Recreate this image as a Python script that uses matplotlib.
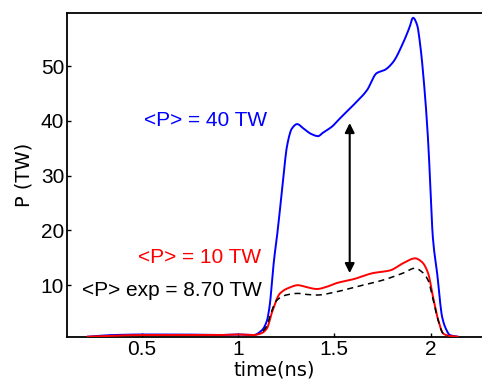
import numpy as np
import matplotlib
matplotlib.use('Agg')
import matplotlib.pyplot as plt

plt.rcParams.update({
    'font.family': ['Liberation Sans', 'DejaVu Sans'],
    'font.size': 15,
})

# blue: <P> = 40 TW
t_blue = [0.22, 0.35, 0.5, 0.7, 0.9, 1.0, 1.08, 1.125, 1.15, 1.166, 1.18, 1.19, 1.20,
          1.229, 1.255, 1.28, 1.307, 1.34, 1.38, 1.416, 1.44, 1.462, 1.49, 1.52, 1.545,
          1.6, 1.67, 1.72, 1.763, 1.805, 1.857, 1.89, 1.909, 1.93, 1.945, 1.97, 1.987,
          2.013, 2.034, 2.06, 2.08, 2.1, 2.14]
p_blue = [0.6, 0.9, 1.0, 1.0, 0.9, 1.0, 0.9, 1.8, 3.5, 6.7, 12.2, 15.5, 18.2,
          27.4, 35.5, 38.6, 39.4, 38.6, 37.6, 37.2, 37.8, 38.3, 39.0, 40.1, 41.0,
          42.9, 45.6, 48.7, 49.3, 50.7, 54.2, 57.0, 58.8, 57.5, 54.2, 45.1, 36.5,
          18.2, 12.2, 4.2, 2.0, 0.9, 0.6]

# red: <P> = 10 TW
t_red = [0.22, 0.5, 0.9, 1.0, 1.08, 1.12, 1.15, 1.177, 1.218, 1.27, 1.31, 1.36, 1.41,
         1.46, 1.514, 1.6, 1.70, 1.79, 1.857, 1.92, 1.956, 1.987, 2.013, 2.04, 2.065,
         2.09, 2.14]
p_red = [0.6, 0.9, 0.9, 1.0, 0.9, 1.2, 2.1, 5.1, 8.5, 9.6, 10.0, 9.6, 9.3,
         9.7, 10.4, 11.1, 12.2, 12.7, 14.0, 14.9, 14.2, 12.2, 7.8, 3.6, 1.2,
         0.8, 0.6]

# black dashed: experiment, <P> = 8.70 TW
t_exp = [1.13, 1.15, 1.17, 1.2, 1.25, 1.31, 1.36, 1.41, 1.5, 1.6, 1.75, 1.857,
         1.92, 1.956, 1.987, 2.013, 2.04, 2.065, 2.09]
p_exp = [1.6, 2.6, 4.8, 7.2, 8.2, 8.5, 8.3, 8.2, 8.7, 9.6, 10.9, 12.2,
         13.1, 12.4, 10.9, 7.4, 3.5, 1.2, 0.8]


def smooth(t, p, n=600):
    # monotone cubic (pchip-like) for a smooth trace through the read points
    t = np.asarray(t, float)
    p = np.asarray(p, float)
    h = np.diff(t)
    d = np.diff(p) / h
    m = np.zeros_like(p)
    for i in range(1, len(p) - 1):
        if d[i - 1] * d[i] > 0:
            w1 = 2 * h[i] + h[i - 1]
            w2 = h[i] + 2 * h[i - 1]
            m[i] = (w1 + w2) / (w1 / d[i - 1] + w2 / d[i])
    m[0], m[-1] = d[0], d[-1]
    tt = np.linspace(t[0], t[-1], n)
    k = np.clip(np.searchsorted(t, tt) - 1, 0, len(h) - 1)
    s = (tt - t[k]) / h[k]
    h00 = 2 * s**3 - 3 * s**2 + 1
    h10 = s**3 - 2 * s**2 + s
    h01 = -2 * s**3 + 3 * s**2
    h11 = s**3 - s**2
    pp = h00 * p[k] + h10 * h[k] * m[k] + h01 * p[k + 1] + h11 * h[k] * m[k + 1]
    return tt, pp


fig = plt.figure(figsize=(4.82, 3.90), dpi=100)
ax = fig.add_axes([0.139, 0.136, 0.861, 0.831])

ax.plot(*smooth(t_blue, p_blue), color='#0000ff', lw=1.4, zorder=3)
ax.plot(*smooth(t_red, p_red), color='#ff0000', lw=1.4, zorder=4)
ax.plot(*smooth(t_exp, p_exp), color='black', lw=1.1, ls=(0, (4, 3)), zorder=5)

ax.annotate('', xy=(1.58, 39.6), xytext=(1.58, 12.2),
            arrowprops=dict(arrowstyle='<|-|>', color='black', lw=1.5,
                            mutation_scale=14, shrinkA=0, shrinkB=0))

ax.text(0.51, 40.1, '<P> = 40 TW', color='#0000ff', fontsize=15, va='center', ha='left')
ax.text(0.48, 15.1, '<P> = 10 TW', color='#ff0000', fontsize=15, va='center', ha='left')
ax.text(0.19, 9.1, '<P> exp = 8.70 TW', color='black', fontsize=15, va='center', ha='left')

ax.set_xlim(0.112, 2.267)
ax.set_ylim(0.55, 59.7)
ax.set_xticks([0.5, 1, 1.5, 2])
ax.set_xticklabels(['0.5', '1', '1.5', '2'])
ax.set_yticks([10, 20, 30, 40, 50])
ax.tick_params(direction='in', length=3, width=1, labelsize=15, pad=2)
for s in ['left', 'bottom', 'top']:
    ax.spines[s].set_linewidth(1.3)
ax.spines['right'].set_visible(False)

ax.set_xlabel('time(ns)', fontsize=14, family='DejaVu Sans', labelpad=1)
ax.set_ylabel('P (TW)', fontsize=14, family='DejaVu Sans', labelpad=5)

fig.savefig('out.png', dpi=100)
